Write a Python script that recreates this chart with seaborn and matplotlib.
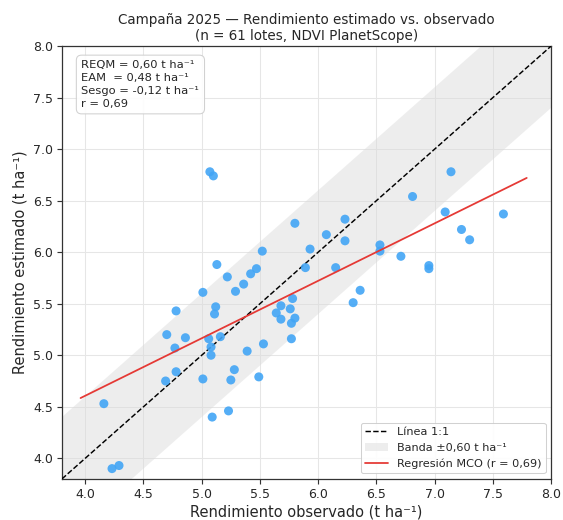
import numpy as np
import pandas as pd
import matplotlib
matplotlib.use("Agg")
import matplotlib.pyplot as plt
import seaborn as sns
from matplotlib.patches import Patch
from matplotlib.lines import Line2D

observado = [4.16, 4.23, 4.29, 4.70, 4.69, 4.77, 4.78, 4.78, 4.86, 5.01,
             5.01, 5.06, 5.07, 5.10, 5.08, 5.08, 5.09, 5.13, 5.12, 5.11,
             5.16, 5.22, 5.23, 5.25, 5.29, 5.28, 5.36, 5.39, 5.42, 5.47,
             5.49, 5.52, 5.53, 5.64, 5.68, 5.68, 5.76, 5.77, 5.77, 5.78,
             5.80, 5.80, 5.89, 5.93, 6.07, 6.15, 6.23, 6.23, 6.30, 6.36,
             6.53, 6.53, 6.71, 6.81, 6.95, 6.95, 7.09, 7.14, 7.23, 7.30,
             7.59]
estimado = [4.53, 3.90, 3.93, 5.20, 4.75, 5.07, 5.43, 4.84, 5.17, 5.61,
            4.77, 5.16, 6.78, 6.74, 5.08, 5.00, 4.40, 5.88, 5.47, 5.40,
            5.18, 5.76, 4.46, 4.76, 5.62, 4.86, 5.69, 5.04, 5.79, 5.84,
            4.79, 6.01, 5.11, 5.41, 5.35, 5.48, 5.45, 5.31, 5.16, 5.55,
            5.36, 6.28, 5.85, 6.03, 6.17, 5.85, 6.32, 6.11, 5.51, 5.63,
            6.07, 6.01, 5.96, 6.54, 5.87, 5.84, 6.39, 6.78, 6.22, 6.12,
            6.37]

titulo = "Campaña 2025 — Rendimiento estimado vs. observado\n(n = 61 lotes, NDVI PlanetScope)"
etiqueta_x = "Rendimiento observado (t ha⁻¹)"
etiqueta_y = "Rendimiento estimado (t ha⁻¹)"
texto_stats = "REQM = 0,60 t ha⁻¹\nEAM  = 0,48 t ha⁻¹\nSesgo = -0,12 t ha⁻¹\nr = 0,69"
leyenda = ["Línea 1:1", "Banda ±0,60 t ha⁻¹", "Regresión MCO (r = 0,69)"]
banda = 0.60
lims = (3.8, 8.0)

df = pd.DataFrame({"obs": observado, "est": estimado})

sns.set_theme(style="whitegrid")
plt.rcParams["font.family"] = ["DejaVu Sans"]

DPI = 75
fig = plt.figure(figsize=(563 / DPI, 520 / DPI), dpi=DPI)
ax = fig.add_axes([0.110, 0.079, 0.869, 0.8325])
ax.set_facecolor("white")

xx = np.array(lims)
ax.fill_between(xx, xx - banda, xx + banda, color="#d9d9d9", alpha=0.45, lw=0, zorder=1)
ax.plot(xx, xx, ls="--", color="black", lw=1.4, zorder=3)

sns.scatterplot(data=df, x="obs", y="est", ax=ax, color="#42A5F5", s=75,
                alpha=0.9, edgecolor="none", zorder=4)

m, b = np.polyfit(df["obs"], df["est"], 1)
xr = np.array([df["obs"].min() - 0.2, df["obs"].max() + 0.2])
ax.plot(xr, m * xr + b, color="#E53935", lw=1.7, zorder=5)

ax.set_xlim(lims)
ax.set_ylim(lims)
ax.set_xticks(np.arange(4.0, 8.01, 0.5))
ax.set_yticks(np.arange(4.0, 8.01, 0.5))
ax.grid(True, color="#e6e6e6", lw=1.0)
for s in ax.spines.values():
    s.set_color("#333333")
    s.set_linewidth(1.2)
ax.tick_params(axis="both", labelsize=12, length=4.5, width=1.1, pad=4,
               color="#333333", bottom=True, left=True)

ax.set_title(titulo, fontsize=13, pad=6)
ax.set_xlabel(etiqueta_x, fontsize=14, labelpad=4)
ax.set_ylabel(etiqueta_y, fontsize=14, labelpad=5)

ax.text(0.04, 0.967, texto_stats, transform=ax.transAxes, va="top", ha="left",
        fontsize=11, zorder=6, linespacing=1.35,
        bbox=dict(boxstyle="round,pad=0.45", fc="white", ec="#cccccc", alpha=0.9))

handles = [Line2D([], [], ls="--", color="black", lw=1.4),
           Patch(facecolor="#d9d9d9", alpha=0.45, edgecolor="none"),
           Line2D([], [], color="#E53935", lw=1.7)]
ax.legend(handles, leyenda, loc="lower right", fontsize=10.8, frameon=True,
          facecolor="white", edgecolor="#cccccc", framealpha=0.9)

fig.savefig("out.png", dpi=DPI)
